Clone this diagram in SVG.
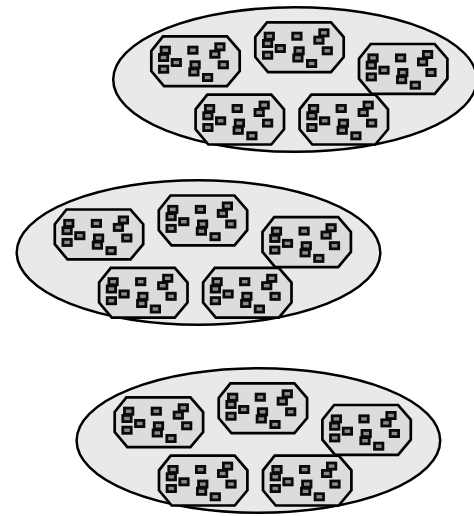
<svg xmlns="http://www.w3.org/2000/svg" xmlns:xlink="http://www.w3.org/1999/xlink" width="474" height="516" viewBox="0 0 474 516">
<style>
.ell{fill:#e9e9e9;stroke:#000;stroke-width:2.5}
.oct{fill:#dcdcdc;stroke:#000;stroke-width:2.7;stroke-linejoin:miter}
.sq{fill:#8c8c8c;stroke:#0a0a0a;stroke-width:2.8}
</style>
<defs>
<g id="cluster">
<path class="oct" d="M13,1.3 H77 L89.7,16 V36 L77,51.2 H14 L1.3,36 V16 Z"/>
<rect class="sq" x="11.1" y="12.1" width="8.4" height="6.2"/>
<rect class="sq" x="9.4" y="19.4" width="8.4" height="6.2"/>
<rect class="sq" x="22.1" y="24.4" width="8.4" height="6.2"/>
<rect class="sq" x="9.4" y="31.1" width="8.4" height="6.2"/>
<rect class="sq" x="38.7" y="12.1" width="8.4" height="6.2"/>
<rect class="sq" x="65.7" y="8.7" width="8.4" height="6.2"/>
<rect class="sq" x="60.7" y="16.1" width="8.4" height="6.2"/>
<rect class="sq" x="69.1" y="26.7" width="8.4" height="6.2"/>
<rect class="sq" x="40.9" y="26.7" width="8.4" height="6.2"/>
<rect class="sq" x="39.7" y="33.9" width="8.4" height="6.2"/>
<rect class="sq" x="53.4" y="39.4" width="8.4" height="6.2"/>
</g>
</defs>
<g id="connectors"></g>
<g id="group1">
<ellipse class="ell" cx="295" cy="79.5" rx="181.8" ry="72.3"/>
<g id="g1-a" transform="translate(150,35)"><use href="#cluster" xlink:href="#cluster"/></g>
<g id="g1-b" transform="translate(254,21)"><use href="#cluster" xlink:href="#cluster"/></g>
<g id="g1-c" transform="translate(357.7,42.7)"><use href="#cluster" xlink:href="#cluster"/></g>
<g id="g1-d" transform="translate(194.3,93.3)"><use href="#cluster" xlink:href="#cluster"/></g>
<g id="g1-e" transform="translate(298.3,93.3)"><use href="#cluster" xlink:href="#cluster"/></g>
</g>
<g id="group2">
<ellipse class="ell" cx="198.5" cy="252.5" rx="181.8" ry="72.3"/>
<g id="g2-a" transform="translate(53.5,208.2)"><use href="#cluster" xlink:href="#cluster"/></g>
<g id="g2-b" transform="translate(157.5,194.2)"><use href="#cluster" xlink:href="#cluster"/></g>
<g id="g2-c" transform="translate(261.2,215.9)"><use href="#cluster" xlink:href="#cluster"/></g>
<g id="g2-d" transform="translate(97.8,266.5)"><use href="#cluster" xlink:href="#cluster"/></g>
<g id="g2-e" transform="translate(201.8,266.5)"><use href="#cluster" xlink:href="#cluster"/></g>
</g>
<g id="group3">
<ellipse class="ell" cx="258.4" cy="440.5" rx="181.8" ry="72.3"/>
<g id="g3-a" transform="translate(113.4,396)"><use href="#cluster" xlink:href="#cluster"/></g>
<g id="g3-b" transform="translate(217.4,382)"><use href="#cluster" xlink:href="#cluster"/></g>
<g id="g3-c" transform="translate(321.1,403.7)"><use href="#cluster" xlink:href="#cluster"/></g>
<g id="g3-d" transform="translate(157.7,454.3)"><use href="#cluster" xlink:href="#cluster"/></g>
<g id="g3-e" transform="translate(261.7,454.3)"><use href="#cluster" xlink:href="#cluster"/></g>
</g>
</svg>
